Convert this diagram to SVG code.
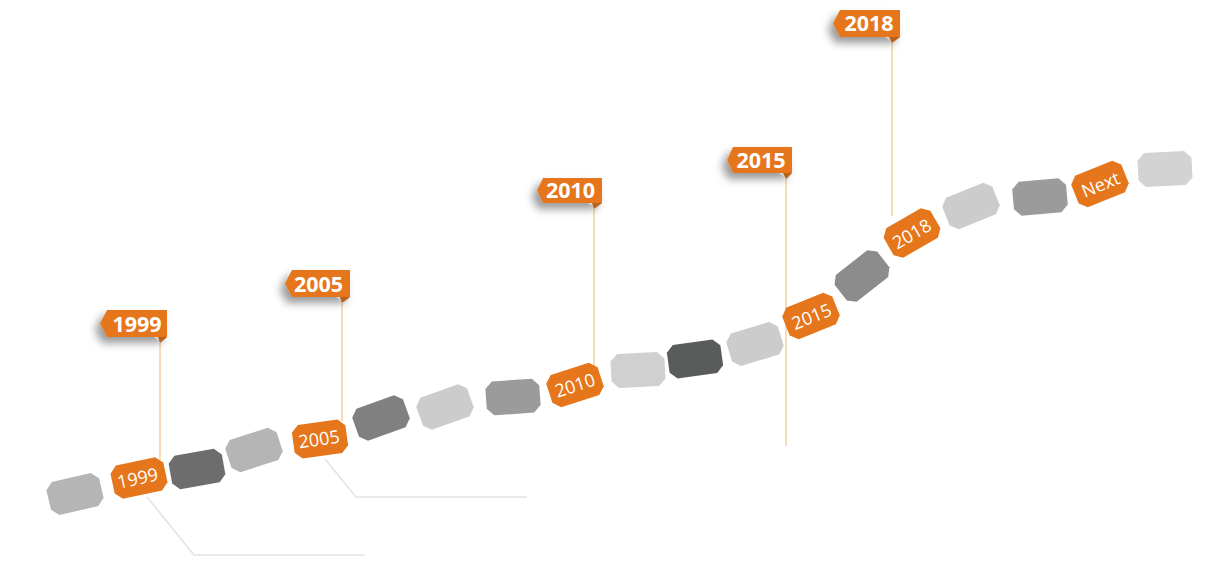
<svg xmlns="http://www.w3.org/2000/svg" width="1206" height="564" viewBox="0 0 1206 564">
<defs>
<style>
.seg-t{font-family:"Open Sans","Liberation Sans",sans-serif;font-size:18px;fill:#fff;text-anchor:middle}
.flag-t{font-family:"Open Sans","Liberation Sans",sans-serif;font-size:21.5px;font-weight:bold;fill:#fff;text-anchor:middle}
.or{fill:#E5761B}
.pole{stroke:#F6C98E;stroke-width:1.3;fill:none}
.lead{stroke:#E2E2E2;stroke-width:1.5;fill:none}
</style>
<path id="seg" d="M-20,-17 L20,-17 L27,-10 L27,10 L20,17 L-20,17 L-27,10 L-27,-10 Z"/>
<filter id="sh" x="-40%" y="-50%" width="180%" height="220%">
<feDropShadow dx="-5" dy="6" stdDeviation="4" flood-color="#000" flood-opacity="0.4"/>
</filter>
</defs>

<g id="connectors">
<line class="pole" x1="160" y1="343" x2="160" y2="460"/>
<line class="pole" x1="342" y1="303" x2="342" y2="421"/>
<line class="pole" x1="594" y1="209" x2="594" y2="366"/>
<line class="pole" x1="786" y1="179" x2="786" y2="446"/>
<line class="pole" x1="892" y1="43" x2="892" y2="216"/>
<polyline class="lead" points="147,497 194,555 365,555"/>
<polyline class="lead" points="325,459 356,497 527,497"/>
</g>

<g id="s1"><use href="#seg" transform="translate(75,494) rotate(-13)" fill="#B5B5B5"/></g>
<g id="s2"><use href="#seg" class="or" transform="translate(139,478) rotate(-12)"/><text class="seg-t" transform="translate(139,484.5) rotate(-12)">1999</text></g>
<g id="s3"><use href="#seg" transform="translate(197,469) rotate(-10)" fill="#6D6D6D"/></g>
<g id="s4"><use href="#seg" transform="translate(254,450) rotate(-18)" fill="#B5B5B5"/></g>
<g id="s5"><use href="#seg" class="or" transform="translate(320,439) rotate(-8)"/><text class="seg-t" transform="translate(320,445.5) rotate(-8)">2005</text></g>
<g id="s6"><use href="#seg" transform="translate(381,418) rotate(-20)" fill="#808080"/></g>
<g id="s7"><use href="#seg" transform="translate(445,407) rotate(-20)" fill="#CCCCCC"/></g>
<g id="s8"><use href="#seg" transform="translate(513,397) rotate(-4)" fill="#9B9B9B"/></g>
<g id="s9"><use href="#seg" class="or" transform="translate(575,385) rotate(-18)"/><text class="seg-t" transform="translate(577,391.5) rotate(-18)">2010</text></g>
<g id="s10"><use href="#seg" transform="translate(638,370) rotate(-3)" fill="#D0D0D0"/></g>
<g id="s11"><use href="#seg" transform="translate(695,359) rotate(-8)" fill="#5A5B5B"/></g>
<g id="s12"><use href="#seg" transform="translate(755,344) rotate(-17)" fill="#CCCCCC"/></g>
<g id="s13"><use href="#seg" class="or" transform="translate(811,316) rotate(-22)"/><text class="seg-t" transform="translate(814,322.5) rotate(-22)">2015</text></g>
<g id="s14"><use href="#seg" transform="translate(862,276) rotate(-38)" fill="#8C8C8C"/></g>
<g id="s15"><use href="#seg" class="or" transform="translate(912,233) rotate(-30)"/><text class="seg-t" transform="translate(915,239.5) rotate(-30)">2018</text></g>
<g id="s16"><use href="#seg" transform="translate(971,206) rotate(-22)" fill="#CCCCCC"/></g>
<g id="s17"><use href="#seg" transform="translate(1040,197) rotate(-5)" fill="#9B9B9B"/></g>
<g id="s18"><use href="#seg" class="or" transform="translate(1100,184) rotate(-22)"/><text class="seg-t" transform="translate(1103,190.5) rotate(-22)">Next</text></g>
<g id="s19"><use href="#seg" transform="translate(1165,169) rotate(-3)" fill="#D3D3D3"/></g>

<g id="f1999">
<path class="or" filter="url(#sh)" d="M100,323.5 L107,310 L167,310 L167,337 L107,337 Z"/>
<path d="M154,337 L167,337 L162,343 Z" fill="#D9D9D9"/>
<path d="M158,337 L167,337 L160,343 Z" fill="#B8621A"/>
<text class="flag-t" x="137" y="331.5">1999</text>
</g>
<g id="f2005">
<path class="or" filter="url(#sh)" d="M285,283.5 L292,270 L350,270 L350,297 L292,297 Z"/>
<path d="M336,297 L350,297 L345,303 Z" fill="#D9D9D9"/>
<path d="M340,297 L350,297 L342,303 Z" fill="#B8621A"/>
<text class="flag-t" x="318.5" y="291.5">2005</text>
</g>
<g id="f2010">
<path class="or" filter="url(#sh)" d="M537,190.5 L543,178 L602,178 L602,203 L543,203 Z"/>
<path d="M588,203 L602,203 L597,209 Z" fill="#D9D9D9"/>
<path d="M592,203 L602,203 L594,209 Z" fill="#B8621A"/>
<text class="flag-t" x="570.5" y="198">2010</text>
</g>
<g id="f2015">
<path class="or" filter="url(#sh)" d="M727,160 L733,147 L792,147 L792,173 L733,173 Z"/>
<path d="M779,173 L792,173 L788,179 Z" fill="#D9D9D9"/>
<path d="M783,173 L792,173 L786,179 Z" fill="#B8621A"/>
<text class="flag-t" x="761" y="167.5">2015</text>
</g>
<g id="f2018">
<path class="or" filter="url(#sh)" d="M833,23.5 L840,10 L900,10 L900,37 L840,37 Z"/>
<path d="M885,37 L900,37 L895,43 Z" fill="#D9D9D9"/>
<path d="M889,37 L900,37 L892,43 Z" fill="#B8621A"/>
<text class="flag-t" x="869" y="31">2018</text>
</g>
</svg>
